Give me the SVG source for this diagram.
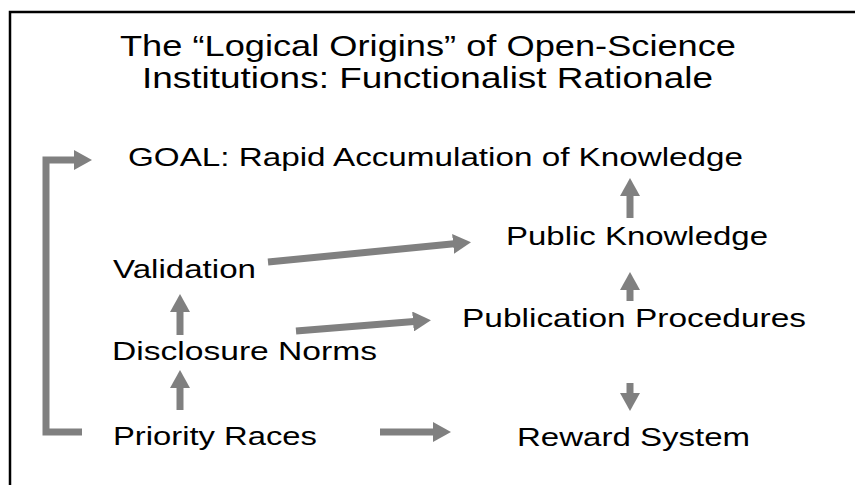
<svg xmlns="http://www.w3.org/2000/svg" width="855" height="485" viewBox="0 0 855 485">
<style>
.t{font-family:"Liberation Sans",Arial,sans-serif;fill:#000;}
.ti{font-size:30px;}
.n{font-size:26px;}
.c{fill:none;stroke:#808080;stroke-width:7;}
</style>
<defs>
<marker id="ah" markerUnits="userSpaceOnUse" markerWidth="18" markerHeight="20" refX="1" refY="10" orient="auto" viewBox="0 0 18 20">
<path d="M0,0 L18,10 L0,20 Z" fill="#808080"/>
</marker>
</defs>
<rect width="855" height="485" fill="#fff"/>
<path d="M10,485 V12 H855" fill="none" stroke="#000" stroke-width="2.5"/>
<g id="title">
<text class="t ti" x="120" y="56" textLength="616" lengthAdjust="spacingAndGlyphs">The “Logical Origins” of Open-Science</text>
<text class="t ti" x="142" y="88" textLength="571" lengthAdjust="spacingAndGlyphs">Institutions: Functionalist Rationale</text>
</g>
<g id="goal"><text class="t n" x="128" y="166" textLength="615" lengthAdjust="spacingAndGlyphs">GOAL: Rapid Accumulation of Knowledge</text></g>
<g id="public-knowledge"><text class="t n" x="506" y="245" textLength="262" lengthAdjust="spacingAndGlyphs">Public Knowledge</text></g>
<g id="validation"><text class="t n" x="113" y="278" textLength="143" lengthAdjust="spacingAndGlyphs">Validation</text></g>
<g id="publication-procedures"><text class="t n" x="462" y="327" textLength="344" lengthAdjust="spacingAndGlyphs">Publication Procedures</text></g>
<g id="disclosure-norms"><text class="t n" x="112" y="360" textLength="265" lengthAdjust="spacingAndGlyphs">Disclosure Norms</text></g>
<g id="priority-races"><text class="t n" x="113" y="445" textLength="204" lengthAdjust="spacingAndGlyphs">Priority Races</text></g>
<g id="reward-system"><text class="t n" x="517" y="446" textLength="233" lengthAdjust="spacingAndGlyphs">Reward System</text></g>
<g id="connectors">
<path class="c" d="M82,432 H46 V160 H75" marker-end="url(#ah)"/>
<path class="c" d="M630,218 V195" marker-end="url(#ah)"/>
<path class="c" d="M630,301 V289" marker-end="url(#ah)"/>
<path class="c" d="M630,383 V394" marker-end="url(#ah)"/>
<path class="c" d="M180,410 V387" marker-end="url(#ah)"/>
<path class="c" d="M180,335 V311" marker-end="url(#ah)"/>
<path class="c" d="M268,262 L454.1,243.8" marker-end="url(#ah)"/>
<path class="c" d="M296,331 L414,321.5" marker-end="url(#ah)"/>
<path class="c" d="M380,432 H434" marker-end="url(#ah)"/>
</g>
</svg>
